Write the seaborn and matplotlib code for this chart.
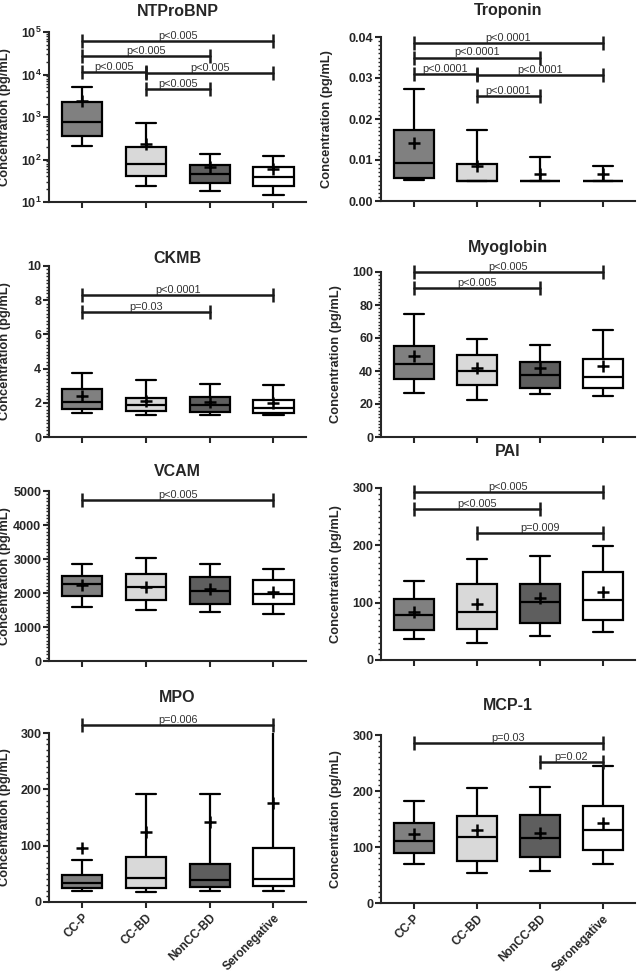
import math
import pandas as pd
import seaborn as sns
import matplotlib.pyplot as plt
from matplotlib.ticker import AutoMinorLocator, MultipleLocator, FuncFormatter, LogLocator, FormatStrFormatter

GROUPS = ["CC-P", "CC-BD", "NonCC-BD", "Seronegative"]
GROUP_COLORS = ["#808080", "#d9d9d9", "#5e5e5e", "#ffffff"]

# per group: whisker low, q1, median, q3, whisker high
ntprobnp_box = [[207, 355, 750, 2300, 5200], [23.4, 40, 78, 195, 708],
                [17.9, 27.6, 46, 73, 136], [14.6, 23.9, 39, 66, 120]]
ntprobnp_mean = [2400, 230, 67, 60]
ntprobnp_p = [(0, 3, 61000, "p<0.005"), (0, 2, 27600, "p<0.005"), (0, 1, 11350, "p<0.005"),
              (1, 3, 11000, "p<0.005"), (1, 2, 4500, "p<0.005")]

troponin_box = [[0.0051, 0.0055, 0.0093, 0.0173, 0.0273], [0.005, 0.005, 0.005, 0.0090, 0.0172],
                [0.005, 0.005, 0.005, 0.005, 0.0108], [0.005, 0.005, 0.005, 0.005, 0.0086]]
troponin_mean = [0.0142, 0.0086, 0.0065, 0.0065]
troponin_p = [(0, 3, 0.0385, "p<0.0001"), (0, 2, 0.035, "p<0.0001"), (0, 1, 0.0309, "p<0.0001"),
              (1, 3, 0.0307, "p<0.0001"), (1, 2, 0.0257, "p<0.0001")]

ckmb_box = [[1.40, 1.65, 2.04, 2.78, 3.74], [1.26, 1.52, 1.85, 2.28, 3.31],
            [1.30, 1.48, 1.85, 2.32, 3.09], [1.30, 1.42, 1.69, 2.14, 3.02]]
ckmb_mean = [2.37, 2.10, 2.02, 2.0]
ckmb_p = [(0, 3, 8.31, "p<0.0001"), (0, 2, 7.30, "p=0.03")]

myoglobin_box = [[26.6, 34.9, 44.2, 55.2, 74.6], [22.7, 31.6, 40.2, 49.9, 59.6],
                 [25.8, 30.0, 37.5, 45.6, 56.0], [24.9, 30.0, 36.5, 47.5, 64.9]]
myoglobin_mean = [49.3, 41.6, 41.6, 43.0]
myoglobin_p = [(0, 3, 100, "p<0.005"), (0, 2, 90.3, "p<0.005")]

vcam_box = [[1578, 1922, 2255, 2510, 2863], [1490, 1794, 2186, 2559, 3029],
            [1451, 1676, 2069, 2471, 2863], [1392, 1667, 1980, 2382, 2696]]
vcam_mean = [2240, 2167, 2108, 2020]
vcam_p = [(0, 3, 4735, "p<0.005")]

pai_box = [[37.3, 53, 78, 106, 137.5], [29.7, 54.8, 83.3, 132, 176],
           [42, 64, 100.8, 131.7, 181.7], [48.9, 69.9, 105.4, 153.8, 198]]
pai_mean = [84.5, 97.3, 108.3, 118.3]
pai_p = [(0, 3, 293.6, "p<0.005"), (0, 2, 263.3, "p<0.005"), (1, 3, 221.4, "p=0.009")]

mpo_box = [[18.9, 24.8, 34.2, 47.2, 73.7], [17.7, 24.2, 42.4, 80.7, 191.5],
           [20, 27.1, 38.9, 67.8, 191.5], [20, 27.7, 40.7, 95.5, 330]]
mpo_mean = [95.5, 124.4, 141.5, 175]
mpo_p = [(0, 3, 314.7, "p=0.006")]

mcp1_box = [[69.2, 89.5, 110.9, 142, 181.9], [53.7, 75.1, 118.1, 154.5, 204.6],
            [56.7, 82.3, 115.7, 156.3, 207], [69.2, 95.4, 131.2, 173.6, 244.5]]
mcp1_mean = [122.9, 130.6, 125.8, 143.7]
mcp1_p = [(0, 3, 285, "p=0.03"), (2, 3, 252.3, "p=0.02")]

sns.set_style("ticks")
plt.rcParams["font.family"] = ["Liberation Sans", "DejaVu Sans"]
plt.rcParams["mathtext.fontset"] = "custom"
plt.rcParams["mathtext.bf"] = "Liberation Sans:bold"
plt.rcParams["mathtext.rm"] = "Liberation Sans:bold"

fig = plt.figure(figsize=(6.4, 9.76), dpi=100)
H = 976.0
W = 640.0


def make_ax(left, right, top, bottom):
    return fig.add_axes([left / W, 1 - bottom / H, (right - left) / W, (bottom - top) / H])


# (title, box, mean, pvals, ylim, major step, minor n, log, pixel box, title y, ylabel x)
panels = [
    ("NTProBNP", ntprobnp_box, ntprobnp_mean, ntprobnp_p, (10, 1e5), None, None, True, (49, 306, 32, 202), 11, 11),
    ("Troponin", troponin_box, troponin_mean, troponin_p, (0, 0.04), 0.01, 10, False, (381, 635, 37, 201), 11, 333),
    ("CKMB", ckmb_box, ckmb_mean, ckmb_p, (0, 10), 2, 10, False, (49, 306, 266, 437), 259, 11),
    ("Myoglobin", myoglobin_box, myoglobin_mean, myoglobin_p, (0, 100), 20, 10, False, (381, 635, 272, 437), 247, 342),
    ("VCAM", vcam_box, vcam_mean, vcam_p, (0, 5000), 1000, 10, False, (49, 306, 491, 661), 471, 11),
    ("PAI", pai_box, pai_mean, pai_p, (0, 300), 100, 10, False, (381, 635, 488, 660), 452, 342),
    ("MPO", mpo_box, mpo_mean, mpo_p, (0, 300), 100, 10, False, (49, 306, 733, 902), 697, 11),
    ("MCP-1", mcp1_box, mcp1_mean, mcp1_p, (0, 300), 100, 10, False, (381, 635, 735, 903), 706, 342),
]

palette = dict(zip(GROUPS, GROUP_COLORS))

for k, (title, box, mean, pvals, ylim, step, nminor, logy, pix, ty, lx) in enumerate(panels):
    ax = make_ax(*pix[:4])
    rows = [(g, v) for g, vals in zip(GROUPS, box) for v in vals]
    df = pd.DataFrame(rows, columns=["group", "value"])
    sns.boxplot(data=df, x="group", y="value", hue="group", palette=palette, saturation=1,
                width=0.63, whis=(0, 100), linecolor="black", linewidth=1.6, fliersize=0,
                legend=False, ax=ax, log_scale=True if logy else None)
    ax.plot(range(4), mean, ls="none", marker="+", ms=8, mew=1.8, color="black", zorder=5)

    for i, j, y, lab in pvals:
        ax.plot([i, j], [y, y], color="#1a1a1a", lw=1.8, marker="|", ms=10, mew=1.8,
                clip_on=False, zorder=6)
        ax.annotate(lab, xy=((i + j) / 2, y), xytext=(0, 1.5), textcoords="offset points",
                    ha="center", va="baseline", fontsize=7.8, color="#333333", annotation_clip=False)

    ax.set_ylim(*ylim)
    ax.set_xlim(-0.52, 3.51)
    if logy:
        ax.yaxis.set_major_locator(LogLocator(base=10, numticks=10))
        ax.yaxis.set_minor_locator(LogLocator(base=10, subs=range(2, 10), numticks=20))
        ax.yaxis.set_major_formatter(FuncFormatter(lambda v, p: r"$\mathbf{10^{%d}}$" % round(math.log10(v))))
    else:
        ax.yaxis.set_major_locator(MultipleLocator(step))
        ax.yaxis.set_minor_locator(AutoMinorLocator(nminor))
        if step < 1:
            ax.yaxis.set_major_formatter(FormatStrFormatter("%.2f"))

    sns.despine(ax=ax)
    for s in ["left", "bottom"]:
        ax.spines[s].set_linewidth(1.5)
    ax.tick_params(axis="both", which="major", direction="out", length=4, width=1.5,
                   labelsize=9, pad=1.5)
    ax.tick_params(axis="y", which="minor", direction="out", length=2.2, width=1)
    ax.tick_params(axis="x", which="minor", length=0)
    for t in ax.get_yticklabels():
        t.set_fontweight("bold")
    ax.set_xlabel("")
    ax.set_ylabel("Concentration (pg/mL)", fontsize=9.3, fontweight="bold")
    ax.yaxis.set_label_coords((lx - pix[0]) / (pix[1] - pix[0]), 0.5)
    ax.set_xticks(range(4))
    if k >= 6:
        ax.set_xticklabels(GROUPS, rotation=45, ha="right", rotation_mode="anchor",
                           fontsize=8.5, fontweight="bold")
        ax.tick_params(axis="x", pad=3)
    else:
        ax.set_xticklabels([])

    cx = (pix[0] + pix[1]) / 2 / W
    fig.text(cx, 1 - ty / H, title, ha="center", va="center", fontsize=11.5, fontweight="bold")

fig.savefig("out.png", dpi=100)
